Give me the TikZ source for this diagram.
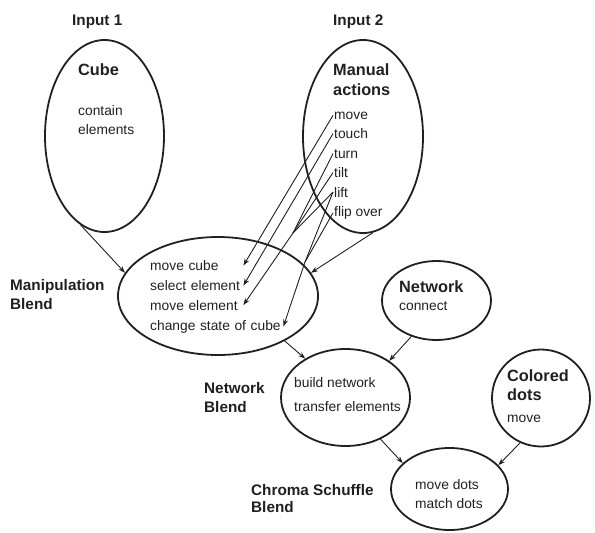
\documentclass[tikz,border=0pt]{standalone}
\usepackage{fontspec}
\setmainfont{Liberation Sans}
\usetikzlibrary{shapes.geometric,arrows.meta,calc}
\definecolor{ink}{HTML}{231F20}

\begin{document}
\begin{tikzpicture}[x=1pt,y=-1pt,
  blob/.style={draw=ink, line width=1.8pt, ellipse, inner sep=0pt},
  body/.style={anchor=base west, inner sep=0pt, text=ink, font=\fontsize{13.8}{16}\selectfont},
  title/.style={anchor=base west, inner sep=0pt, text=ink, font=\fontsize{16.3}{19}\selectfont\bfseries},
  tag/.style={anchor=base west, inner sep=0pt, text=ink, font=\fontsize{15.3}{18}\selectfont\bfseries},
  link/.style={draw=ink, line width=0.9pt, -{Stealth[length=7pt,width=5pt]}},
  feed/.style={draw=ink, line width=0.9pt}]
\useasboundingbox (0,0) rectangle (595,533);

% input spaces
\node[tag] (in1) at (72,25) {Input 1};
\node[tag] (in2) at (333,25) {Input 2};

\node[blob, minimum width=119pt, minimum height=192pt] (cube) at (104.5,136) {};
\node[title] (cubet) at (78,75) {Cube};
\node[body] (ce1) at (78,115) {contain};
\node[body] (ce2) at (78,134) {elements};

\node[blob, minimum width=120pt, minimum height=193pt] (manual) at (363,136.5) {};
\node[title] (mant1) at (333,75) {Manual};
\node[title] (mant2) at (333,95) {actions};
\node[body] (mv) at (334,119) {move};
\node[body] (tc) at (334,138.5) {touch};
\node[body] (tn) at (334,158) {turn};
\node[body] (tl) at (334,177.5) {tilt};
\node[body] (lf) at (334,197) {lift};
\node[body] (fl) at (334,216.5) {flip over};

% manipulation blend
\node[blob, minimum width=200pt, minimum height=118pt] (manip) at (218,296) {};
\node[tag] (mb1) at (10,290) {Manipulation};
\node[tag] (mb2) at (10,309) {Blend};
\node[body, text width=93pt, align=left] (mc) at (150,270.5) {move cube};
\node[body, text width=93pt, align=left] (se) at (150,290.5) {select element};
\node[body, text width=93pt, align=left] (me) at (150,310) {move element};
\node[body, text width=133pt, align=left] (cs) at (150,330) {change state of cube};

% network input and network blend
\node[blob, minimum width=109pt, minimum height=79pt] (net) at (436.5,300.5) {};
\node[title] (nett) at (399,292) {Network};
\node[body] (nc) at (399,310) {connect};

\node[blob, minimum width=129pt, minimum height=97pt] (netb) at (345.5,397.5) {};
\node[tag] (nb1) at (204,393) {Network};
\node[tag] (nb2) at (204,412) {Blend};
\node[body] (bn) at (294,387) {build network};
\node[body] (te) at (294,411) {transfer elements};

% coloured dots input and final blend
\node[blob, minimum width=98pt, minimum height=97pt] (dots) at (541,398) {};
\node[title] (dt1) at (507,381) {Colored};
\node[title] (dt2) at (507,400) {dots};
\node[body] (dm) at (507,422) {move};

\node[blob, minimum width=117pt, minimum height=82pt] (chroma) at (449.5,489) {};
\node[tag] (cb1) at (251,495) {Chroma Schuffle};
\node[tag] (cb2) at (251,512) {Blend};
\node[body] (md) at (415,489) {move dots};
\node[body] (mt) at (415,508) {match dots};

% projections between spaces
\draw[link] (cube.255) -- (manip.166);
\draw[link] (manual.276) -- (manip.14);
\draw[link] (manip.326) -- (netb.136);
\draw[link] (net.235) -- (netb.40);
\draw[link] (netb.310) -- (chroma.151);
\draw[link] (dots.245) -- (chroma.26);

% actions mapped onto cube operations
\coordinate (j1) at (293,233);
\coordinate (j2) at (305,262);
\draw[link] ([xshift=-1pt]mv.west) -- (mc.east);
\draw[link] ([xshift=-1pt]tc.west) -- (se.east);
\draw[feed] ([xshift=-1pt]tn.west) -- (j1);
\draw[feed] ([xshift=-1pt]tl.west) -- (j1);
\draw[feed] ([xshift=-1pt]lf.west) -- (j1);
\draw[link] (j1) -- (me.east);
\draw[feed] ([xshift=-1pt]lf.west) -- (j2);
\draw[feed] ([xshift=-1pt]fl.west) -- (j2);
\draw[link] (j2) -- (cs.east);
\end{tikzpicture}
\end{document}
